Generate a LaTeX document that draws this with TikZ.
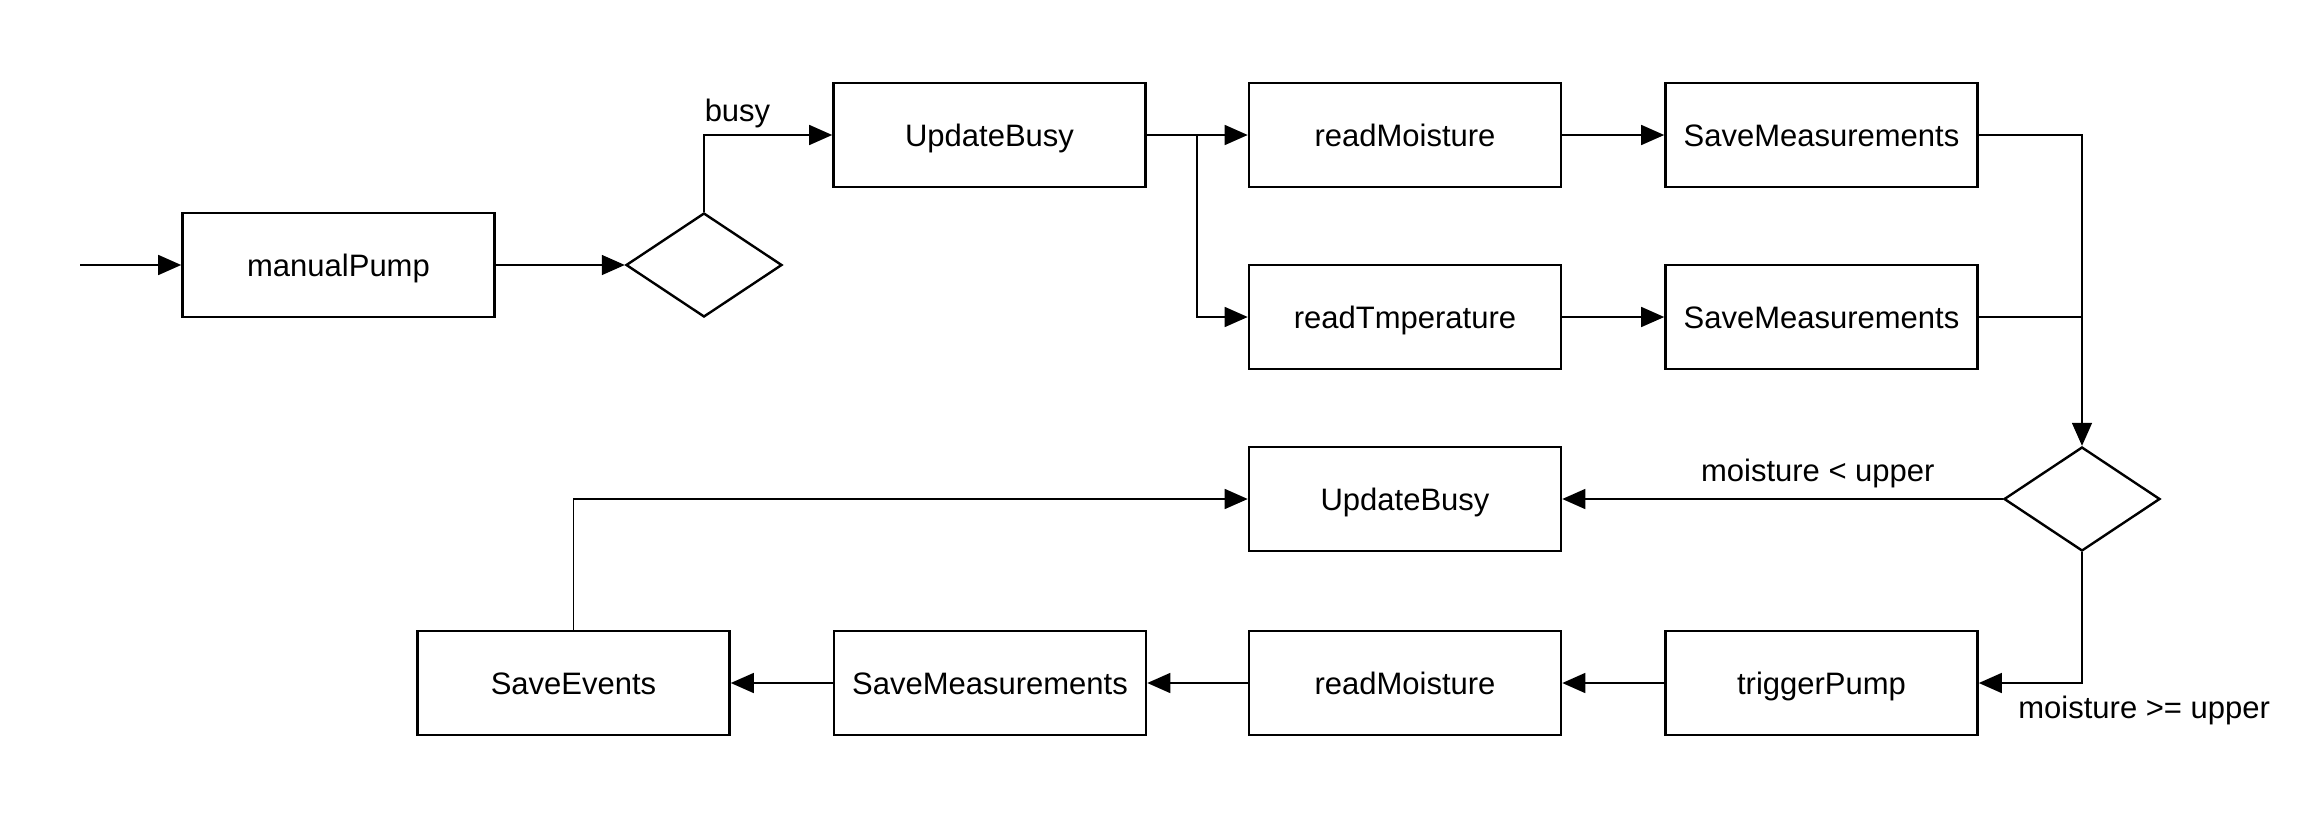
\documentclass[tikz,border=0pt]{standalone}
\usepackage{fontspec}
\setmainfont{Liberation Sans}
\usetikzlibrary{arrows.meta,shapes.geometric}
\begin{document}
\begin{tikzpicture}[x=0.5pt,y=-0.5pt,
  font=\fontsize{15.5pt}{18pt}\selectfont,
  box/.style={draw,line width=1.3pt,minimum width=156pt,minimum height=52pt,inner sep=0pt,text height=13pt,text depth=1.9pt},
  dec/.style={draw,diamond,line width=1.2pt,minimum width=78pt,minimum height=52pt,inner sep=0pt,aspect=1.5},
  conn/.style={line width=0.75pt,-{Triangle[length=11.5pt,width=10pt]}},
  plain/.style={line width=0.75pt}]
\useasboundingbox (0,0) rectangle (2324,814);
\coordinate (start) at (80,265);
\node[box] (mp) at (338.5,265) {manualPump};
\node[dec] (d1) at (704,265) {};
\node[box] (ub) at (989.5,135) {UpdateBusy};
\node[box] (rm) at (1405,135) {readMoisture};
\node[box] (sm1) at (1821.5,135) {SaveMeasurements};
\node[box] (rt) at (1405,317) {readTmperature};
\node[box] (sm2) at (1821.5,317) {SaveMeasurements};
\node[dec] (d2) at (2082,499) {};
\node[box] (ub2) at (1405,499) {UpdateBusy};
\node[box] (tp) at (1821.5,683) {triggerPump};
\node[box] (rm2) at (1405,683) {readMoisture};
\node[box] (sm3) at (990,683) {SaveMeasurements};
\node[box] (se) at (573.5,683) {SaveEvents};
\coordinate (br) at (1197,135);
\coordinate (mg) at (2082,317);

\draw[conn] (start) -- (mp.west);
\draw[conn] (mp.east) -- (d1.west);
\draw[conn] (d1.north) |- node[pos=0.5,anchor=south west,inner sep=3pt,xshift=-3pt] {busy} (ub.west);
\draw[conn] (ub.east) -- (rm.west);
\draw[conn] (br) |- (rt.west);
\draw[conn] (rm.east) -- (sm1.west);
\draw[conn] (rt.east) -- (sm2.west);
\draw[conn] (sm1.east) -| (d2.north);
\draw[plain] (sm2.east) -- (mg);
\draw[conn] (d2.west) -- node[above,pos=0.42,inner sep=5pt] {moisture < upper} (ub2.east);
\draw[conn] (d2.south) |- (tp.east);
\node[anchor=west,inner sep=0pt] (lbl) at (2018,710) {moisture >= upper};
\draw[conn] (tp.west) -- (rm2.east);
\draw[conn] (rm2.west) -- (sm3.east);
\draw[conn] (sm3.west) -- (se.east);
\draw[conn] (se.north) |- (ub2.west);
\end{tikzpicture}
\end{document}
